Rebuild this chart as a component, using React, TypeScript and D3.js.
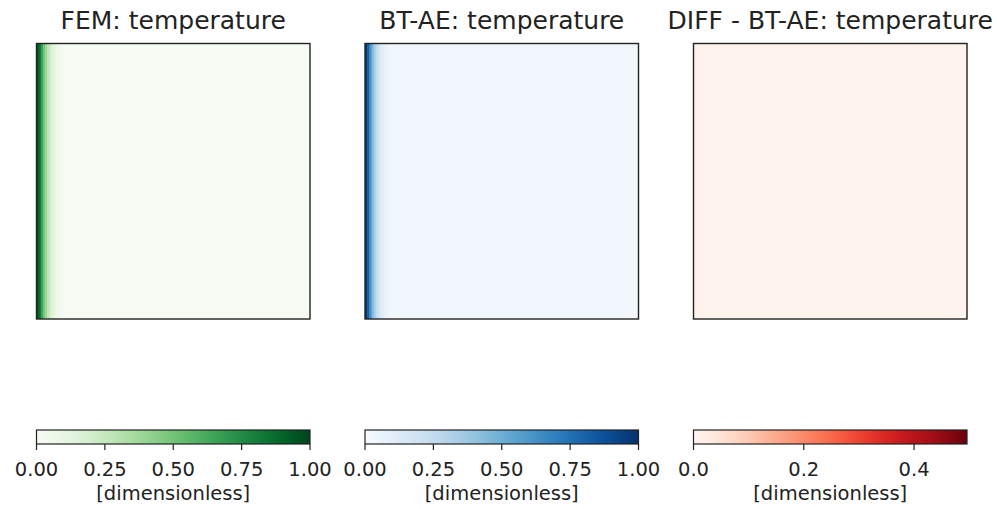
import React from 'react';
import * as d3 from 'd3';

// column profiles of the temperature field, left edge -> right (128 columns, rest constant)
const N_COLS = 128;
const femProfile = [0.95, 0.85, 0.66, 0.5, 0.38, 0.28, 0.2, 0.14, 0.1, 0.07, 0.05, 0.035, 0.025, 0.018];
const femRest = 0.01;
const aeProfile = [0.97, 0.82, 0.62, 0.46, 0.34, 0.25, 0.18, 0.13, 0.1, 0.075, 0.055, 0.045, 0.035];
const aeRest = 0.028;
const diffProfile = [0.012, 0.01, 0.009, 0.008, 0.008, 0.007];
const diffRest = 0.006;

const titles = ['FEM: temperature', 'BT-AE: temperature', 'DIFF - BT-AE: temperature'];
const domains: [number, number][] = [[0, 1], [0, 1], [0, 0.496]];
const tickValues = [
  [0, 0.25, 0.5, 0.75, 1.0],
  [0, 0.25, 0.5, 0.75, 1.0],
  [0, 0.2, 0.4],
];
const tickFormats = ['.2f', '.2f', '.1f'];
const unitLabel = '[dimensionless]';

const profiles = [
  { head: femProfile, rest: femRest },
  { head: aeProfile, rest: aeRest },
  { head: diffProfile, rest: diffRest },
];
const interps = [d3.interpolateGreens, d3.interpolateBlues, d3.interpolateReds];

const W = 997;
const H = 509;
const panelX = [36.5, 365, 693.5];
const panelW = 273.5;
const panelTop = 43.5;
const panelH = 275.5;
const barTop = 430;
const barH = 14;
const font = '"DejaVu Sans", sans-serif';

function Panel({ i }: { i: number }) {
  const x0 = panelX[i];
  const cols = d3.range(N_COLS);
  const values = cols.map((c) => (c < profiles[i].head.length ? profiles[i].head[c] : profiles[i].rest));
  const x = d3.scaleBand<number>().domain(cols).range([x0, x0 + panelW]);
  const color = d3.scaleSequential(interps[i]).domain(domains[i]);
  const cb = d3.scaleLinear().domain(domains[i]).range([x0, x0 + panelW]);
  const gradId = `grad-${i}`;
  const stops = d3.range(0, 1.0001, 0.05);
  const fmt = d3.format(tickFormats[i]);
  return (
    <g>
      <defs>
        <linearGradient id={gradId} x1="0" x2="1" y1="0" y2="0">
          {stops.map((s) => (
            <stop key={s} offset={`${s * 100}%`} stopColor={interps[i](s)} />
          ))}
        </linearGradient>
      </defs>
      <text x={x0 + panelW / 2} y={29} textAnchor="middle" fontSize={25} fontFamily={font} fill="#222">
        {titles[i]}
      </text>
      {values.map((v, c) => (
        <rect key={c} x={x(c)!} y={panelTop} width={x.bandwidth() + 0.6} height={panelH} fill={color(v)} />
      ))}
      <rect x={x0} y={panelTop} width={panelW} height={panelH} fill="none" stroke="#222" strokeWidth={1.4} />

      <rect x={x0} y={barTop} width={panelW} height={barH} fill={`url(#${gradId})`} stroke="#222" strokeWidth={1.2} />
      {tickValues[i].map((t) => (
        <g key={t}>
          <line x1={cb(t)} x2={cb(t)} y1={barTop + barH} y2={barTop + barH + 6} stroke="#222" strokeWidth={1.2} />
          <text x={cb(t)} y={476} textAnchor="middle" fontSize={19.5} fontFamily={font} fill="#222">
            {fmt(t)}
          </text>
        </g>
      ))}
      <text x={x0 + panelW / 2} y={500} textAnchor="middle" fontSize={19.5} fontFamily={font} fill="#222">
        {unitLabel}
      </text>
    </g>
  );
}

export default function App() {
  return (
    <svg
      width={W}
      height={H}
      style={{ position: 'absolute', left: 0, top: 0, background: '#fff', display: 'block' }}
    >
      <rect width={W} height={H} fill="#fff" />
      {[0, 1, 2].map((i) => (
        <Panel key={i} i={i} />
      ))}
    </svg>
  );
}
